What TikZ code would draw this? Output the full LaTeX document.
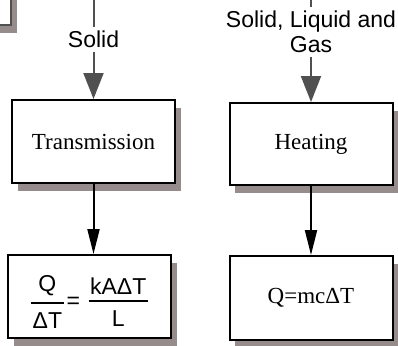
\documentclass[tikz,border=0pt]{standalone}
\usepackage{fontspec}
\setmainfont{Liberation Serif}
\newfontfamily\labelfont{Liberation Sans}
\usetikzlibrary{arrows.meta,shadows}
\definecolor{shadowgray}{RGB}{150,140,140}
\definecolor{linegray}{RGB}{80,80,80}
% fraction with a set gap above and below the bar
\newcommand\barfrac[2]{\vcenter{\offinterlineskip
  \halign{\hfil\kern1.5pt##\kern1.5pt\hfil\cr #1\cr
  \noalign{\kern6pt\hrule height 1.5pt\kern9pt}#2\cr}}}

\begin{document}
\begin{tikzpicture}[x=1pt, y=-1pt,
  box/.style={draw, line width=2pt, fill=white, minimum width=163pt, minimum height=83pt, inner sep=0pt,
    font=\fontsize{23}{26}\selectfont,
    drop shadow={shadow xshift=5.5pt, shadow yshift=-7.5pt, fill=shadowgray, opacity=1}},
  lbl/.style={fill=white, inner sep=4pt, align=center, font=\labelfont\fontsize{23}{25}\selectfont},
  grayarrow/.style={draw=linegray, line width=2pt, -{Triangle[length=26pt, width=20pt]}},
  blackarrow/.style={line width=2pt, -{Triangle[length=25pt, width=12pt]}}]
\useasboundingbox (0,0) rectangle (398,345);
\clip (0,0) rectangle (398,345);
% boxes
\node[box, draw=linegray, minimum width=200pt] (prev) at (-89,-16) {};
\node[box] (trans) at (93.5,141.5) {Transmission};
\node[box, minimum height=82pt] (heat) at (311,144) {Heating};
\node[box, font=\labelfont\fontsize{23}{26}\selectfont, text height=43pt, text depth=19pt] (fourier) at (89.5,296.5)
  {$\barfrac{Q}{ΔT}\kern3pt\mbox{=}\kern8.5pt\barfrac{kAΔT}{L}$};
\node[box, minimum height=84pt] (calor) at (311,298) {Q=mcΔT};
% connectors
\coordinate (ltop) at (93.5,0);
\coordinate (rtop) at (311,0);
\draw[grayarrow] (ltop) -- node[lbl, pos=0.4] {Solid} (trans);
\draw[grayarrow] (rtop) -- node[lbl, pos=0.31] {Solid, Liquid and\\Gas} (heat);
\draw[blackarrow] (trans.south) -- (trans.south |- fourier.north);
\draw[blackarrow] (heat) -- (calor);
\end{tikzpicture}
\end{document}
